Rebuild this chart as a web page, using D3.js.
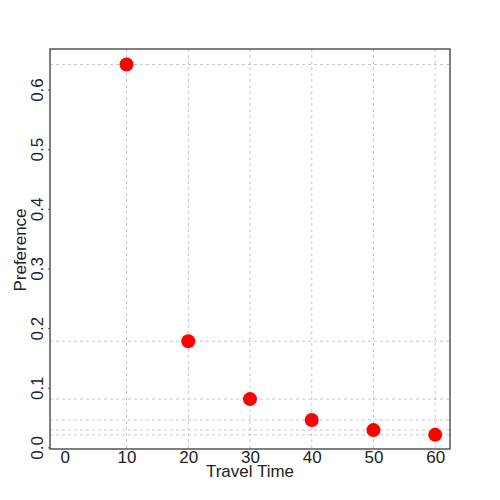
<!DOCTYPE html>
<html>
<head>
<meta charset="utf-8">
<script src="https://cdn.jsdelivr.net/npm/d3@7"></script>
<style>
  body { margin: 0; background: #fff; }
  text { font-family: "Liberation Sans", Arial, sans-serif; fill: #222; }
</style>
</head>
<body>
<div id="chart"></div>
<script>
const travelTime = [10, 20, 30, 40, 50, 60];
const preference = [0.642, 0.178, 0.081, 0.046, 0.029, 0.021];
const xTicks = [0, 10, 20, 30, 40, 50, 60];
const yTicks = [0.0, 0.1, 0.2, 0.3, 0.4, 0.5, 0.6];

const width = 500, height = 500;
const box = { left: 50, right: 450, top: 49, bottom: 449 };

const svg = d3.select("#chart").append("svg")
    .attr("width", width)
    .attr("height", height);

const x = d3.scaleLinear().domain([-2.4, 62.4]).range([box.left, box.right]);
const y = d3.scaleLinear().domain([-0.0027, 0.668]).range([box.bottom, box.top]);

// grid lines through each point
svg.append("g").selectAll("line")
    .data(travelTime)
    .enter().append("line")
    .attr("x1", d => x(d)).attr("x2", d => x(d))
    .attr("y1", box.top).attr("y2", box.bottom)
    .attr("stroke", "#c8c8c8")
    .attr("stroke-dasharray", "3,3");

svg.append("g").selectAll("line")
    .data(preference)
    .enter().append("line")
    .attr("x1", box.left).attr("x2", box.right)
    .attr("y1", d => y(d)).attr("y2", d => y(d))
    .attr("stroke", "#c8c8c8")
    .attr("stroke-dasharray", "3,3");

// frame
svg.append("rect")
    .attr("x", box.left).attr("y", box.top)
    .attr("width", box.right - box.left)
    .attr("height", box.bottom - box.top)
    .attr("fill", "none")
    .attr("stroke", "#555")
    .attr("stroke-width", 1.5);

// y axis
const yAxis = svg.append("g")
    .attr("transform", `translate(${box.left},0)`)
    .call(d3.axisLeft(y).tickValues(yTicks).tickFormat(d3.format(".1f")).tickSize(2).tickPadding(0));
yAxis.select(".domain").remove();
yAxis.selectAll(".tick line").attr("stroke", "#555");
yAxis.selectAll(".tick text")
    .attr("transform", "rotate(-90)")
    .attr("x", 0).attr("y", -7)
    .attr("dy", 0)
    .attr("text-anchor", "middle")
    .style("font-size", "17px");

// x axis
const xAxis = svg.append("g")
    .attr("transform", `translate(0,${box.bottom})`)
    .call(d3.axisBottom(x).tickValues(xTicks).tickSize(0).tickPadding(0));
xAxis.select(".domain").remove();
xAxis.selectAll(".tick text")
    .attr("y", 14)
    .attr("dy", 0)
    .style("font-size", "17px");

// points
svg.append("g").selectAll("circle")
    .data(travelTime)
    .enter().append("circle")
    .attr("cx", d => x(d))
    .attr("cy", (d, i) => y(preference[i]))
    .attr("r", 7)
    .attr("fill", "#ff0000");

// titles
svg.append("text")
    .attr("x", 250).attr("y", 477)
    .attr("text-anchor", "middle")
    .style("font-size", "17px")
    .text("Travel Time");

svg.append("text")
    .attr("transform", "translate(26,250) rotate(-90)")
    .attr("text-anchor", "middle")
    .style("font-size", "17px")
    .text("Preference");
</script>
</body>
</html>
